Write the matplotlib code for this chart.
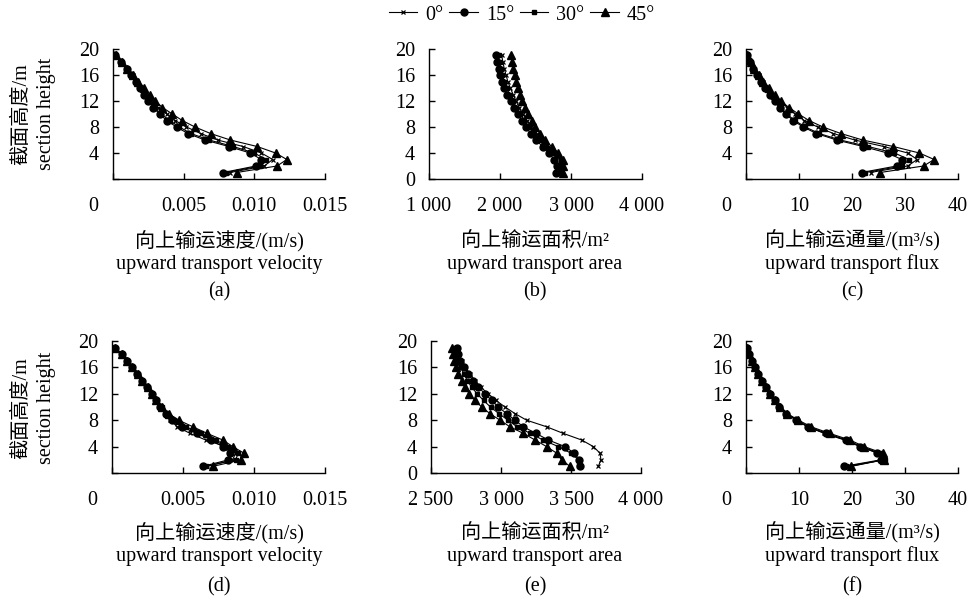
import matplotlib
matplotlib.use("Agg")
import matplotlib.pyplot as plt
from matplotlib.transforms import ScaledTranslation

SERIF = ["Liberation Serif", "Noto Sans CJK SC", "DejaVu Sans"]
plt.rcParams["font.family"] = SERIF
plt.rcParams["font.size"] = 14.5

heights = list(range(1, 20))
angles = ["0°", "15°", "30°", "45°"]

# (a) upward transport velocity, upper case (m/s)
vel_a_0 = [0.0083, 0.0107, 0.0113, 0.0105, 0.0092, 0.0074, 0.0062, 0.0052, 0.0044, 0.0038,
           0.0032, 0.0028, 0.0024, 0.0020, 0.0017, 0.0014, 0.0010, 0.00065, 0.00018]
vel_a_15 = [0.0078, 0.0101, 0.0105, 0.0097, 0.0082, 0.0065, 0.0053, 0.0045, 0.0038, 0.0033,
            0.00285, 0.0025, 0.0022, 0.0019, 0.0016, 0.0013, 0.00097, 0.0006, 0.00014]
vel_a_30 = [0.0080, 0.0104, 0.0108, 0.0100, 0.0085, 0.0068, 0.0055, 0.0047, 0.0040, 0.0034,
            0.0029, 0.00255, 0.00225, 0.0019, 0.0016, 0.0013, 0.00098, 0.0006, 0.00015]
vel_a_45 = [0.00875, 0.0116, 0.0123, 0.0115, 0.0102, 0.0083, 0.0069, 0.0058, 0.0049, 0.0042,
            0.0035, 0.0030, 0.0026, 0.0022, 0.0018, 0.0014, 0.0010, 0.00065, 0.0002]

# (b) upward transport area (m^2)
area_b_0 = [2830, 2850, 2840, 2770, 2680, 2590, 2520, 2440, 2380, 2320,
            2270, 2225, 2185, 2145, 2110, 2085, 2060, 2040, 2025]
area_b_15 = [2784, 2798, 2761, 2695, 2601, 2507, 2432, 2366, 2305, 2249,
             2197, 2150, 2103, 2061, 2028, 2000, 1981, 1962, 1944]
area_b_30 = [2850, 2870, 2860, 2760, 2650, 2560, 2480, 2410, 2345, 2285,
             2230, 2180, 2135, 2095, 2060, 2035, 2012, 1995, 1980]
area_b_45 = [2883, 2892, 2890, 2822, 2728, 2634, 2563, 2493, 2446, 2400,
             2352, 2315, 2282, 2252, 2225, 2205, 2188, 2172, 2155]

# (c) upward transport flux (m^3/s)
flux_c_0 = [23.5, 30.5, 32.3, 30.5, 26.0, 20.5, 16.5, 13.5, 11.0, 9.3,
            7.8, 6.5, 5.3, 4.2, 3.3, 2.4, 1.6, 0.9, 0.15]
flux_c_15 = [21.8, 28.4, 29.4, 26.7, 22.1, 17.1, 13.3, 10.8, 8.9, 7.5,
             6.4, 5.5, 4.5, 3.6, 2.8, 2.1, 1.4, 0.75, 0.1]
flux_c_30 = [22.5, 29.5, 30.8, 28.0, 23.0, 17.8, 13.8, 11.2, 9.2, 7.7,
             6.6, 5.6, 4.6, 3.7, 2.9, 2.2, 1.45, 0.8, 0.12]
flux_c_45 = [25.3, 33.5, 35.5, 32.7, 27.8, 22.0, 17.9, 14.5, 11.9, 9.9,
             8.1, 6.6, 5.4, 4.3, 3.3, 2.4, 1.6, 0.9, 0.15]

# (d) upward transport velocity, lower case (m/s)
vel_d_0 = [0.0067, 0.0085, 0.0087, 0.0080, 0.0066, 0.0055, 0.0046, 0.0041, 0.0037, 0.0034,
           0.0031, 0.0028, 0.0025, 0.0021, 0.0018, 0.0014, 0.00105, 0.0007, 0.0002]
vel_d_15 = [0.0064, 0.0082, 0.0083, 0.0078, 0.0070, 0.0060, 0.0049, 0.0042, 0.0038, 0.0034,
            0.0031, 0.0028, 0.00244, 0.0021, 0.00174, 0.00139, 0.00103, 0.00068, 0.0002]
vel_d_30 = [0.0066, 0.0087, 0.0089, 0.0082, 0.0073, 0.0063, 0.0052, 0.0044, 0.0039, 0.0035,
            0.0031, 0.0028, 0.0025, 0.0021, 0.0018, 0.0014, 0.00105, 0.0007, 0.0002]
vel_d_45 = [0.0071, 0.0091, 0.0093, 0.0085, 0.0078, 0.0067, 0.0057, 0.0047, 0.0040, 0.0035,
            0.0031, 0.0028, 0.0025, 0.0021, 0.0018, 0.0014, 0.00105, 0.0007, 0.0002]

# (e) upward transport area (m^2)
area_e_0 = [3695, 3714, 3707, 3660, 3576, 3445, 3326, 3183, 3100, 3029,
            2964, 2909, 2855, 2814, 2779, 2743, 2719, 2702, 2695]
area_e_15 = [3564, 3560, 3524, 3457, 3338, 3250, 3160, 3100, 3040, 2981,
             2933, 2886, 2838, 2802, 2767, 2736, 2707, 2690, 2683]
area_e_30 = [3555, 3555, 3500, 3410, 3300, 3210, 3115, 3050, 2985, 2925,
             2875, 2830, 2790, 2760, 2735, 2712, 2695, 2680, 2670]
area_e_45 = [3493, 3433, 3398, 3326, 3243, 3160, 3064, 2993, 2921, 2862,
             2814, 2774, 2743, 2719, 2695, 2679, 2667, 2655, 2648]

# (f) upward transport flux (m^3/s)
flux_f_0 = [19.6, 25.8, 25.0, 21.5, 18.6, 14.8, 11.6, 9.5, 7.7, 6.4,
            5.5, 4.5, 3.8, 3.0, 2.3, 1.7, 1.1, 0.57, 0.1]
flux_f_15 = [18.4, 25.5, 24.8, 21.6, 18.8, 15.0, 11.7, 9.5, 7.6, 6.3,
             5.4, 4.5, 3.8, 3.0, 2.3, 1.7, 1.1, 0.57, 0.1]
flux_f_30 = [18.8, 26.2, 25.3, 21.8, 19.0, 15.2, 11.8, 9.6, 7.7, 6.4,
             5.5, 4.5, 3.8, 3.0, 2.3, 1.7, 1.1, 0.57, 0.1]
flux_f_45 = [19.8, 26.0, 25.8, 22.3, 19.6, 15.8, 12.3, 9.9, 7.8, 6.5,
             5.5, 4.6, 3.8, 3.0, 2.3, 1.7, 1.1, 0.57, 0.1]

y_ticks = [0, 4, 8, 12, 16, 20]

vel_ticks = [0, 0.005, 0.010, 0.015]
vel_labels = ["0", "0.005", "0.010", "0.015"]
area_b_ticks = [1000, 2000, 3000, 4000]
area_b_labels = ["1 000", "2 000", "3 000", "4 000"]
area_e_ticks = [2500, 3000, 3500, 4000]
area_e_labels = ["2 500", "3 000", "3 500", "4 000"]
flux_ticks = [0, 10, 20, 30, 40]
flux_labels = ["0", "10", "20", "30", "40"]

label_vel = "向上输运速度/(m/s)"
label_area = "向上输运面积/m²"
label_flux = "向上输运通量/(m³/s)"
en_vel = "upward transport velocity"
en_area = "upward transport area"
en_flux = "upward transport flux"

W, H = 971, 607
fig = plt.figure(figsize=(W / 100, H / 100), dpi=100)

styles = [
    dict(marker="x", ms=3.5, mew=0.9),
    dict(marker="o", ms=5),
    dict(marker="s", ms=3.5),
    dict(marker="^", ms=5.5),
]


def px_axes(x0, x1, ybot, ytop):
    return fig.add_axes([x0 / W, 1 - ybot / H, (x1 - x0) / W, (ybot - ytop) / H])


def draw_panel(ax, series, xlim, xticks, xlabels, zero_corner):
    lines = []
    for vals, st in zip(series, styles):
        ln, = ax.plot(vals, heights, color="black", lw=0.8, mfc="black", mec="black", **st)
        lines.append(ln)
    ax.set_xlim(*xlim)
    ax.set_ylim(0, 20)
    ax.set_xticks(xticks)
    ax.set_xticklabels(xlabels)
    ax.set_yticks(y_ticks)
    ylabels = [str(v) for v in y_ticks]
    if zero_corner:
        ylabels[0] = ""
    ax.set_yticklabels(ylabels)
    for s in ("top", "right"):
        ax.spines[s].set_visible(False)
    for s in ("left", "bottom"):
        ax.spines[s].set_linewidth(1.0)
    ax.tick_params(axis="x", direction="in", length=4, width=1.0, pad=13)
    ax.tick_params(axis="y", direction="in", length=4, width=1.0, pad=10)
    if zero_corner:
        lbl = ax.get_xticklabels()[0]
        lbl.set_transform(lbl.get_transform() + ScaledTranslation(-20 / 100, 0, fig.dpi_scale_trans))
    return lines


top_y = (179, 49)
bot_y = (473, 341)

ax_a = px_axes(113, 325, *top_y)
ax_b = px_axes(429, 642, *top_y)
ax_c = px_axes(746, 958, *top_y)
ax_d = px_axes(112, 325, *bot_y)
ax_e = px_axes(431, 641, *bot_y)
ax_f = px_axes(746, 958, *bot_y)

handles = draw_panel(ax_a, [vel_a_0, vel_a_15, vel_a_30, vel_a_45], (0, 0.015), vel_ticks, vel_labels, True)
draw_panel(ax_b, [area_b_0, area_b_15, area_b_30, area_b_45], (1000, 4000), area_b_ticks, area_b_labels, False)
draw_panel(ax_c, [flux_c_0, flux_c_15, flux_c_30, flux_c_45], (0, 40), flux_ticks, flux_labels, True)
draw_panel(ax_d, [vel_d_0, vel_d_15, vel_d_30, vel_d_45], (0, 0.015), vel_ticks, vel_labels, True)
draw_panel(ax_e, [area_e_0, area_e_15, area_e_30, area_e_45], (2500, 4000), area_e_ticks, area_e_labels, False)
draw_panel(ax_f, [flux_f_0, flux_f_15, flux_f_30, flux_f_45], (0, 40), flux_ticks, flux_labels, True)


def ftext(x, y, s, **kw):
    fig.text(x / W, 1 - y / H, s, ha="center", va="center", fontsize=14.5, **kw)


captions = ["(a)", "(b)", "(c)", "(d)", "(e)", "(f)"]
centers = [219, 535, 852]
cn_labels = [label_vel, label_area, label_flux]
en_labels = [en_vel, en_area, en_flux]
for row, (y_cn, y_en, y_cap) in enumerate([(241, 264, 292), (533, 556, 587)]):
    for col, cx in enumerate(centers):
        ftext(cx, y_cn, cn_labels[col])
        ftext(cx, y_en, en_labels[col])
        ftext(cx, y_cap, captions[row * 3 + col])

# vertical axis titles
for yc in (114, 408):
    ftext(22, yc, "截面高度/m", rotation=90)
    ftext(46, yc, "section height", rotation=90)

fig.legend(handles, angles, loc="center", bbox_to_anchor=(522 / W, 1 - 15 / H), ncol=4,
           frameon=False, handlelength=1.4, handletextpad=0.4, columnspacing=0.3,
           fontsize=14.5, borderpad=0)

fig.savefig("out.png", dpi=100)
